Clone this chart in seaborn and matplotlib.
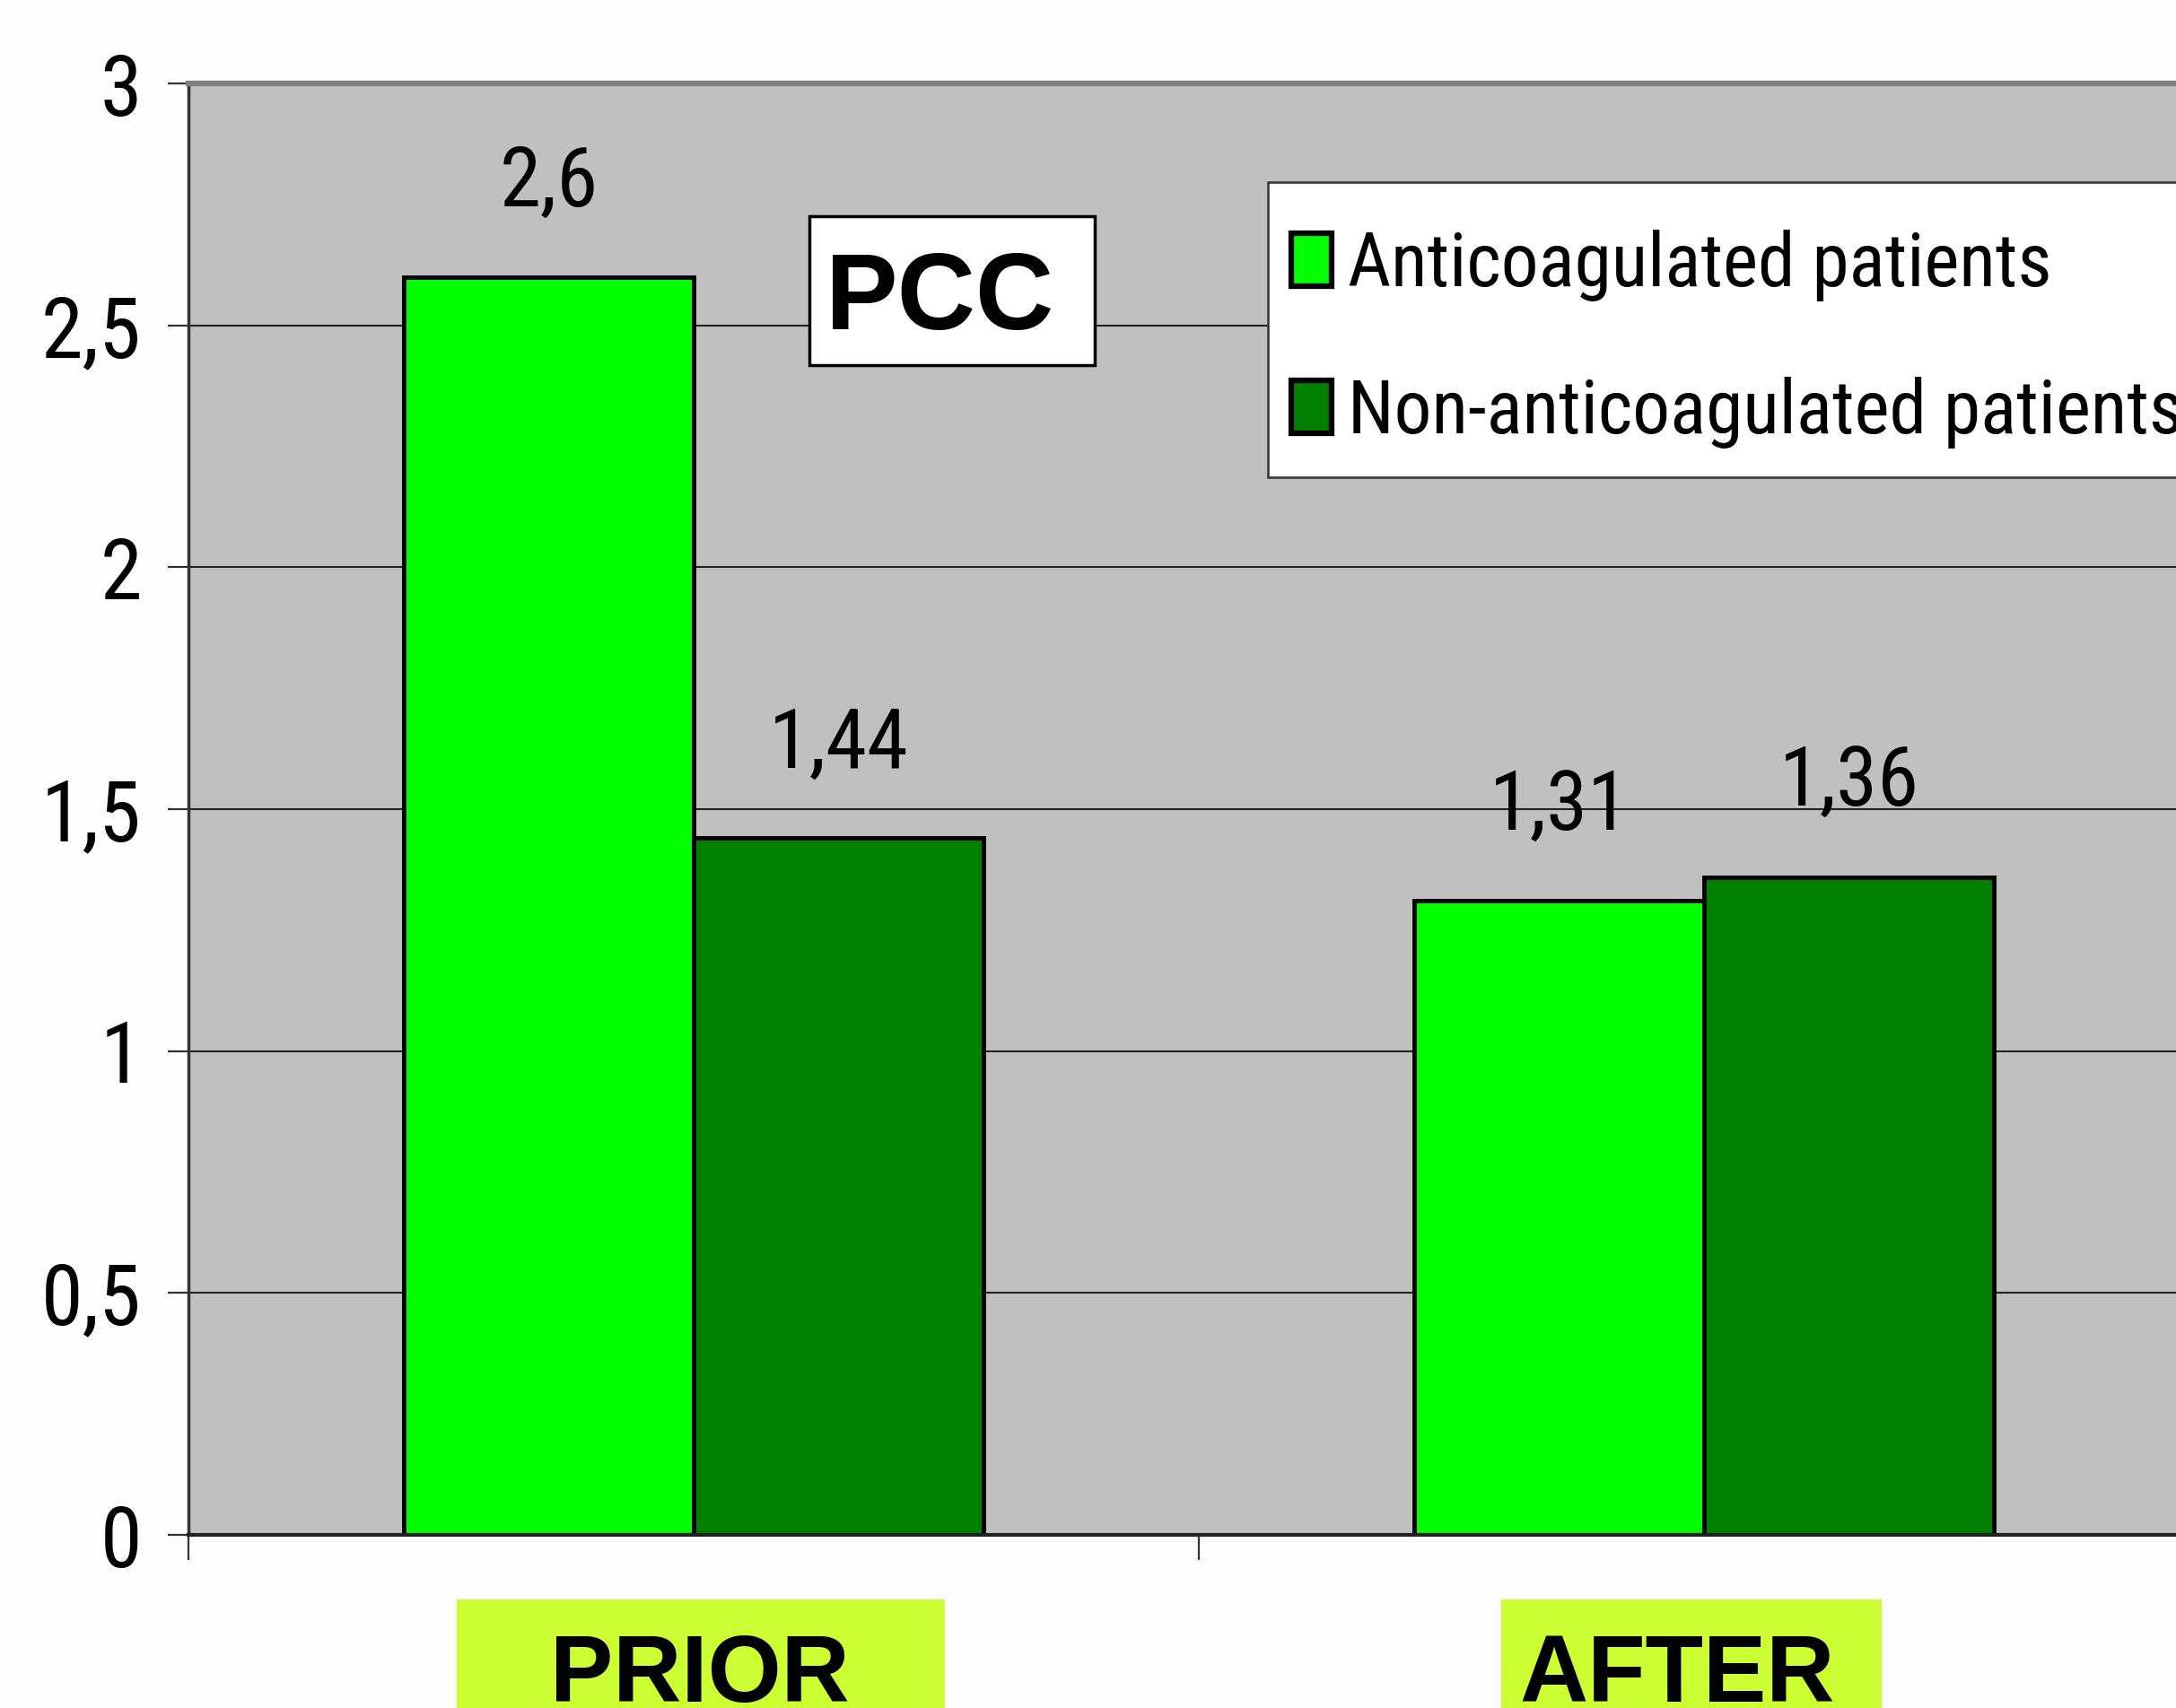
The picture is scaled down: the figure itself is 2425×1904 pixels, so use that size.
import matplotlib
matplotlib.use("Agg")
import matplotlib.pyplot as plt
from matplotlib import font_manager
from matplotlib.patches import Rectangle
import seaborn as sns
import pandas as pd

# ---- data ----
categories = ["PRIOR", "AFTER"]
groups = ["Anticoagulated patients", "Non-anticoagulated patients"]
anticoagulated = [2.6, 1.31]
non_anticoagulated = [1.44, 1.36]
yticks = [0, 0.5, 1, 1.5, 2, 2.5, 3]
ytick_labels = ["0", "0,5", "1", "1,5", "2", "2,5", "3"]
title_box = "PCC"

df = pd.DataFrame({
    "phase": categories * 2,
    "group": [groups[0]] * 2 + [groups[1]] * 2,
    "value": anticoagulated + non_anticoagulated,
})

# ---- fonts ----
names = {f.name for f in font_manager.fontManager.ttflist}
NARROW = None
for cand in ["Liberation Sans Narrow", "Arial Narrow", "Roboto Condensed"]:
    if cand in names:
        NARROW = [cand, "DejaVu Sans"]
        nscale = 1.0
        break
if NARROW is None:
    NARROW = ["Liberation Sans", "DejaVu Sans"]
    nscale = 0.84
BOLD = ["Liberation Sans", "DejaVu Sans"]

sns.set_style("white")
plt.rcParams["font.family"] = NARROW
for k in ["text.color", "axes.labelcolor", "xtick.color", "ytick.color"]:
    plt.rcParams[k] = "black"

W, H = 2425, 1904
fig = plt.figure(figsize=(W / 100, H / 100), dpi=100, facecolor="#FDFDFD")
left, right, top, bottom = 210, 2462, 93, 1711
ax = fig.add_axes([left / W, 1 - bottom / H, (right - left) / W, (bottom - top) / H])
ax.set_facecolor("#C0C0C0")

sns.barplot(data=df, x="phase", y="value", hue="group", order=categories,
            hue_order=groups, palette=["#00FF00", "#008000"], width=0.573,
            edgecolor="black", linewidth=3.5, saturation=1, ax=ax)

ax.set_xlim(-0.5, 1.5)
ax.set_ylim(0, 3)
ax.set_axisbelow(True)
ax.yaxis.grid(True, color="#222222", linewidth=1.5)
ax.xaxis.grid(False)

ax.set_yticks(yticks)
ax.set_yticklabels(ytick_labels, fontsize=68 * nscale, family=NARROW, color="black")
ax.tick_params(axis="y", direction="out", length=16.5, width=1.6, color="#333333",
               pad=21, left=True, labelcolor="black")
ax.set_xticks([-0.5, 0.5, 1.5])
ax.set_xticklabels([])
ax.tick_params(axis="x", direction="out", length=20, width=1.6, color="#333333",
               bottom=True)
ax.set_xlabel("")
ax.set_ylabel("")

for s in ["left", "bottom", "top", "right"]:
    ax.spines[s].set_visible(True)
ax.spines["left"].set_color("#333333")
ax.spines["left"].set_linewidth(2.5)
ax.spines["bottom"].set_color("#222222")
ax.spines["bottom"].set_linewidth(3.0)
ax.spines["top"].set_color("#808080")
ax.spines["top"].set_linewidth(4.5)
ax.spines["right"].set_color("#808080")

# value labels
for cont in ax.containers:
    labs = [f"{b.get_height():g}".replace(".", ",") for b in cont]
    ax.bar_label(cont, labels=labs, padding=43, fontsize=67 * nscale,
                 family=NARROW, color="black")

# legend (frame drawn separately so the box can match the reference)
leg_fs = 60 * nscale
em = leg_fs * 100 / 72.0
row_h = 0.96 * em
ax.add_patch(Rectangle((1413 / W, 1 - 532 / H), (2600 - 1413) / W, (532 - 203) / H,
                       transform=fig.transFigure, facecolor="white",
                       edgecolor="#333333", linewidth=1.8, zorder=4, clip_on=False))
handles, labels = ax.get_legend_handles_labels()
leg = ax.legend(handles, labels, loc="upper left",
                bbox_to_anchor=(1439 / W, 1 - (319 - 0.76 * em) / H),
                bbox_transform=fig.transFigure,
                prop={"family": NARROW, "size": leg_fs},
                handlelength=45 / em, handleheight=60 / em, handletextpad=0.22,
                labelspacing=(164 - row_h) / em, borderpad=0, borderaxespad=0,
                frameon=False)
leg.set_zorder(6)
for t in leg.get_texts():
    t.set_color("black")
for h in leg.legend_handles:
    h.set_edgecolor("black")
    h.set_linewidth(4.5)

# PCC box
fig.add_artist(Rectangle((902 / W, 1 - 407 / H), (1220 - 902) / W, (407 - 241) / H,
                         transform=fig.transFigure, facecolor="white",
                         edgecolor="black", linewidth=2.5, zorder=5))
fig.text(1047 / W, 1 - 367 / H, title_box, ha="center", va="baseline",
         fontsize=87, fontweight="bold", family=BOLD, color="black", zorder=6)

# category label boxes
boxes = [(509, 1053, 780), (1673, 2097, 1869)]
for cat, (x0, x1, xc) in zip(categories, boxes):
    fig.add_artist(Rectangle((x0 / W, 0), (x1 - x0) / W, (1904 - 1783) / H,
                             transform=fig.transFigure, facecolor="#CCFF33",
                             edgecolor="none", zorder=5))
    fig.text(xc / W, 7 / H, cat, ha="center", va="baseline", fontsize=76,
             fontweight="bold", family=BOLD, color="black", zorder=6)

fig.savefig("out.png", dpi=100, facecolor=fig.get_facecolor())
